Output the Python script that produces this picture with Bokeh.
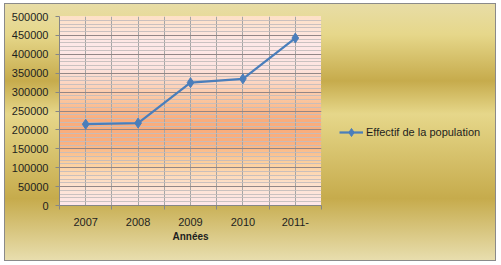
from bokeh.plotting import figure
from bokeh.layouts import row
from bokeh.models import (Range1d, FixedTicker, BasicTickFormatter, Legend, LegendItem)
from bokeh.embed import file_html
from bokeh.resources import INLINE

# ---- data ----
annees = ["2007", "2008", "2009", "2010", "2011-"]
effectif = [215000, 218000, 325000, 335000, 443000]
y_ticks = list(range(0, 500001, 50000))
y_minor = list(range(0, 500001, 10000))
serie_label = "Effectif de la population"
x_title = "Années"

xs = list(range(len(annees)))
x_bounds = [i - 0.5 for i in range(len(annees) + 1)]

W, H = 501, 265
FL, FT, FR, FB = 59, 16, 321, 205
WA = 330            # width of the chart part, the rest holds the legend

outer = ("linear-gradient(to bottom, #E8DDA6 0%, #E6D78A 12%, #C6AB4C 30%, #E6D78A 43%, "
         "#C6AB4C 76%, #E8DEAE 100%) 5px 4px / 490px 256px no-repeat")
border = "linear-gradient(#8a8a8a, #8a8a8a) 4px 3px / 492px 258px no-repeat"
inner = ("linear-gradient(to bottom, #FDE0C6 0%, #FEE8E8 15%, #FDE4E0 27%, #FBC49C 45%, "
         "#F9AC7C 55%, #F9AE7E 66%, #FCD09E 78%, #FDE2D0 90%, #FEE7EA 100%) "
         f"{FL}px {FT}px / {FR-FL}px {FB-FT}px no-repeat")

p = figure(width=WA, height=H, output_backend="svg", toolbar_location=None,
           x_range=Range1d(-0.5, len(annees) - 0.5), y_range=Range1d(0, 500000),
           min_border_left=FL, min_border_top=FT, min_border_right=WA - FR,
           min_border_bottom=H - FB)
p.background_fill_color = None
p.border_fill_color = None
p.outline_line_color = None

FONT = "Liberation Sans"
TXT = "#1e1e1e"

# x axis
xt = FixedTicker(ticks=xs, minor_ticks=x_bounds)
p.xaxis.ticker = xt
p.xgrid.ticker = xt
p.xaxis.major_label_overrides = {i: a for i, a in enumerate(annees)}
p.xaxis.major_tick_out = 0
p.xaxis.major_tick_in = 0
p.xaxis.minor_tick_out = 4
p.xaxis.minor_tick_in = 0
p.xaxis.major_label_standoff = 8
p.xaxis.axis_label = x_title
p.xaxis.axis_label_standoff = 2
p.xaxis.axis_label_text_font = FONT
p.xaxis.axis_label_text_font_style = "bold"
p.xaxis.axis_label_text_font_size = "10px"
p.xaxis.axis_label_text_color = TXT

# y axis
yt = FixedTicker(ticks=y_ticks, minor_ticks=y_minor)
p.yaxis.ticker = yt
p.ygrid.ticker = yt
p.yaxis.formatter = BasicTickFormatter(use_scientific=False)
p.yaxis.major_tick_out = 4
p.yaxis.major_tick_in = 0
p.yaxis.minor_tick_out = 0
p.yaxis.minor_tick_in = 0
p.yaxis.major_label_standoff = 7

for ax in (p.xaxis, p.yaxis):
    ax.axis_line_color = "#868686"
    ax.major_tick_line_color = "#868686"
    ax.minor_tick_line_color = "#868686"
    ax.major_label_text_font = FONT
    ax.major_label_text_font_size = "11px"
    ax.major_label_text_color = TXT

# grids
p.ygrid.grid_line_color = "#8a7c7c"
p.ygrid.grid_line_alpha = 0.85
p.ygrid.minor_grid_line_color = "#c4bcbc"
p.ygrid.minor_grid_line_alpha = 0.9
p.xgrid.grid_line_color = "#a6a6a6"
p.xgrid.minor_grid_line_color = "#a6a6a6"

BLUE = "#4a7ebb"
p.line(xs, effectif, line_color=BLUE, line_width=2.25)
p.scatter(xs, effectif, marker="diamond", size=10, fill_color=BLUE, line_color=BLUE)

# legend panel (its key renderers hold the same series, outside its visible ranges)
q = figure(width=W - WA, height=H, output_backend="svg", toolbar_location=None,
           x_range=Range1d(-10, -9), y_range=Range1d(-10, -9),
           x_axis_location=None, y_axis_location=None,
           min_border=0)
q.background_fill_color = None
q.border_fill_color = None
q.outline_line_color = None
q.grid.visible = False
lk = q.line(xs, effectif, line_color=BLUE, line_width=2.25)
sk = q.scatter(xs, effectif, marker="diamond", size=10, fill_color=BLUE, line_color=BLUE)

# frames of a row are aligned, so the legend frame spans FT..FB vertically
legend = Legend(items=[LegendItem(label=serie_label, renderers=[lk, sk])],
                location=(339 - WA, FB - 142), padding=0, margin=0, spacing=0,
                glyph_width=24, glyph_height=20, label_standoff=3,
                label_text_font=FONT, label_text_font_size="11px",
                label_text_color=TXT, background_fill_alpha=0,
                border_line_color=None)
q.add_layout(legend)

lay = row(p, q, spacing=0,
          styles={"background": f"{inner}, {outer}, {border}, #ffffff"})

open("out.html", "w").write(file_html(lay, INLINE))
